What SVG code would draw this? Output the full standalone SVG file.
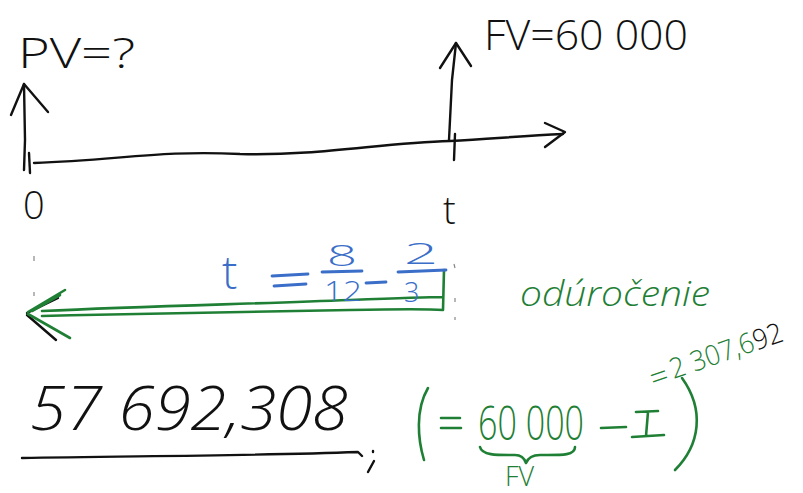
<svg xmlns="http://www.w3.org/2000/svg" width="803" height="493" viewBox="0 0 803 493">
<style>
.k{fill:none;stroke:#111;stroke-width:2.4;stroke-linecap:round;stroke-linejoin:round}
.g{fill:none;stroke:#1f8035;stroke-width:2.6;stroke-linecap:round;stroke-linejoin:round}
.b{fill:none;stroke:#3a6ec8;stroke-width:2.8;stroke-linecap:round}
text{font-family:"Open Sans","Liberation Sans",Arial,sans-serif;font-weight:300}
.tk{fill:#111}
.tg{fill:#1f8035}
.tb{fill:#3a6ec8}
.dot{stroke:#888;stroke-width:1.2;fill:none}
</style>
<rect width="803" height="493" fill="#fff"/>
<g id="axis">
<path class="k" d="M24,170 L25,140 L24,84"/>
<path class="k" d="M11,115 L24,84 L48,112"/>
<path class="k" d="M29,153 L30,173"/>
<path class="k" d="M34,163 C120,160 160,150 240,154 C320,156 380,143 450,141 C490,139 520,136 563,134"/>
<path class="k" d="M545,123 L565,132 L545,147"/>
<path class="k" d="M449,140 L452,80 L456,43"/>
<path class="k" d="M440,68 L456,43 L471,66"/>
<path class="k" d="M455,134 L454,160"/>
</g>
<g id="labels-top">
<text class="tk" x="18" y="68" font-size="42" textLength="117" lengthAdjust="spacingAndGlyphs">PV=?</text>
<text class="tk" x="484" y="50" font-size="42" textLength="204" lengthAdjust="spacingAndGlyphs">FV=60 000</text>
<text class="tk" x="23" y="219" font-size="38">0</text>
<text class="tk" x="443" y="224" font-size="38">t</text>
</g>
<g id="ticks">
<path class="dot" d="M34,256 L34,261 M34,292 L34,296 M454,264 L455,268 M455,298 L455,302 M455,317 L455,320"/>
</g>
<g id="discount-arrow">
<path class="k" d="M27,313 L58,298 M27,315 L56,340"/>
<path class="g" d="M42,311 C150,306 250,304 350,300 C400,298 430,297 443,297 M42,316 C150,313 260,312 350,310 C400,309 430,309 443,310 M443,310 L444,270"/>
<path class="g" d="M28,312 L65,290 M28,314 L70,338 M32,311 L60,295"/>
</g>
<g id="formula-t">
<text class="tb" x="222" y="289" font-size="46">t</text>
<path class="b" d="M272,276 L308,274 M274,286 L306,284"/>
<text class="tb" x="327" y="266" font-size="30" textLength="30" lengthAdjust="spacingAndGlyphs">8</text>
<path class="b" d="M322,272 L362,271"/>
<text class="tb" x="324" y="301" font-size="27" textLength="38" lengthAdjust="spacingAndGlyphs">12</text>
<path class="b" d="M366,283 L386,282"/>
<text class="tb" x="404" y="264" font-size="30" textLength="34" lengthAdjust="spacingAndGlyphs">2</text>
<path class="b" d="M398,272 L446,270"/>
<text class="tb" x="404" y="302" font-size="27">3</text>
</g>
<g id="odurocenie">
<text class="tg" x="520" y="306" font-size="34" font-style="italic" textLength="190" lengthAdjust="spacingAndGlyphs">odúročenie</text>
</g>
<g id="result">
<text class="tk" x="30" y="430" font-size="60" font-style="italic" textLength="318" lengthAdjust="spacingAndGlyphs">57 692,308</text>
<path class="k" d="M22,458 C120,456 250,456 358,452 L362,456"/>
<path class="k" d="M373,451 L373,452 M374,461 L368,472"/>
</g>
<g id="interest">
<path class="g" d="M428,388 C415,410 418,440 424,460"/>
<path class="g" d="M441,418 L460,418 M441,428 L461,428"/>
<text class="tg" x="478" y="440" font-size="48" textLength="106" lengthAdjust="spacingAndGlyphs">60 000</text>
<path class="g" d="M601,428 L626,427"/>
<path class="g" d="M636,412 L658,411 M648,412 L646,436 M632,437 L664,435"/>
<path class="g" d="M682,378 C705,410 700,445 675,470"/>
<path class="g" d="M480,447 C482,456 500,455 515,455 C522,455 525,460 526,463 C528,458 532,455 540,455 C560,455 575,456 575,447"/>
<text class="tg" x="505" y="486" font-size="27" font-weight="400">FV</text>
<g transform="translate(654,390) rotate(-19)">
<text class="tg" x="0" y="0" font-size="32">=</text>
<text class="tg" x="22" y="-4" font-size="28" textLength="118" lengthAdjust="spacingAndGlyphs">2 307,6<tspan fill="#111">92</tspan></text>
</g>
</g>
</svg>
